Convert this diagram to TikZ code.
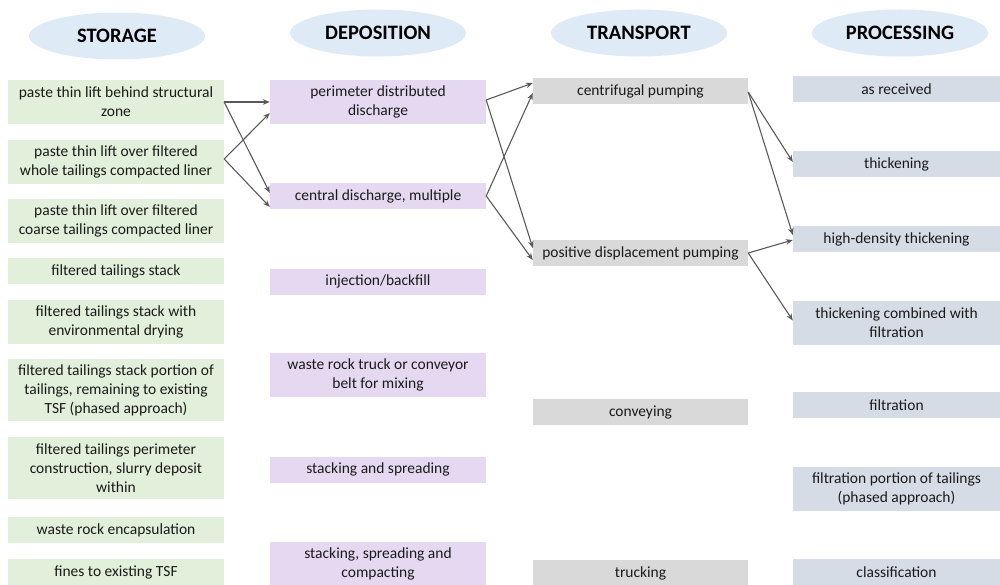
\documentclass[tikz,border=0pt]{standalone}
\usepackage{fontspec}
\setmainfont{Carlito}
\usetikzlibrary{arrows.meta,shapes.geometric}
\definecolor{storg}{HTML}{E2EFDA}
\definecolor{depc}{HTML}{E5D9F2}
\definecolor{trc}{HTML}{D9D9D9}
\definecolor{proc}{HTML}{D6DCE5}
\definecolor{hdr}{HTML}{DEEBF7}
\definecolor{arr}{HTML}{595959}
\definecolor{txt}{HTML}{1A1A1A}
\tikzset{
  box/.style={rectangle, inner sep=0pt, align=center, text=txt,
    font=\fontsize{15.5}{19}\selectfont},
  stor/.style={box, fill=storg, minimum width=216pt},
  depo/.style={box, fill=depc, minimum width=216pt},
  tran/.style={box, fill=trc, minimum width=215pt},
  proc/.style={box, fill=proc, minimum width=207pt},
  one/.style={minimum height=26pt},
  two/.style={minimum height=44pt},
  three/.style={minimum height=62pt},
  hdrnode/.style={ellipse, fill=hdr, minimum width=176pt, minimum height=47pt,
    inner sep=0pt, font=\fontsize{20.5}{22}\selectfont\bfseries, text=black},
  conn/.style={draw=arr, line width=1.1pt, -{Stealth[length=7pt,width=5.5pt]}}
}
\begin{document}
\begin{tikzpicture}[x=1pt,y=-1pt]
\useasboundingbox (0,0) rectangle (1000,585);
% headers
\node[hdrnode] (hS) at (117,36) {STORAGE};
\node[hdrnode] (hD) at (378,33) {DEPOSITION};
\node[hdrnode] (hT) at (639,33) {TRANSPORT};
\node[hdrnode] (hP) at (900,33) {PROCESSING};
% storage
\node[stor,two] (S1) at (116,102) {paste thin lift behind structural\\zone};
\node[stor,two] (S2) at (116,162) {paste thin lift over filtered\\whole tailings compacted liner};
\node[stor,two] (S3) at (116,221) {paste thin lift over filtered\\coarse tailings compacted liner};
\node[stor,one] (S4) at (116,271) {filtered tailings stack};
\node[stor,two] (S5) at (116,321.5) {filtered tailings stack with\\environmental drying};
\node[stor,three] (S6) at (116,390) {filtered tailings stack portion of\\tailings, remaining to existing\\TSF (phased approach)};
\node[stor,three] (S7) at (116,468) {filtered tailings perimeter\\construction, slurry deposit\\within};
\node[stor,one] (S8) at (116,530) {waste rock encapsulation};
\node[stor,one] (S9) at (116,572) {fines to existing TSF};
% deposition
\node[depo,two] (D1) at (378,102) {perimeter distributed\\discharge};
\node[depo,one] (D2) at (378,196) {central discharge, multiple};
\node[depo,one] (D3) at (378,281.5) {injection/backfill};
\node[depo,two] (D4) at (378,375) {waste rock truck or conveyor\\belt for mixing};
\node[depo,one] (D5) at (378,469.5) {stacking and spreading};
\node[depo,two] (D6) at (378,563.5) {stacking, spreading and\\compacting};
% transport
\node[tran,one] (T1) at (640.5,91) {centrifugal pumping};
\node[tran,one] (T2) at (640.5,253) {positive displacement pumping};
\node[tran,one] (T3) at (640.5,412) {conveying};
\node[tran,one] (T4) at (640.5,573) {trucking};
% processing
\node[proc,one] (P1) at (896.5,89) {as received};
\node[proc,one] (P2) at (896.5,164) {thickening};
\node[proc,one] (P3) at (896.5,239) {high-density thickening};
\node[proc,two] (P4) at (896.5,322.5) {thickening combined with\\filtration};
\node[proc,one] (P5) at (896.5,405) {filtration};
\node[proc,two] (P6) at (896.5,489) {filtration portion of tailings\\(phased approach)};
\node[proc,one] (P7) at (896.5,572) {classification};
% connectors storage -> deposition
\draw[conn] (S1.east) -- (D1.west);
\draw[conn] (S1.east) -- ([yshift=3pt]D2.west);
\draw[conn] ([yshift=3pt]S2.east) -- ([yshift=-11pt]D1.west);
\draw[conn] ([yshift=3pt]S2.east) -- ([yshift=-11pt]D2.west);
% deposition -> transport
\draw[conn] ([yshift=2pt]D1.east) -- ([yshift=8pt]T1.west);
\draw[conn] ([yshift=2pt]D1.east) -- ([yshift=5pt]T2.west);
\draw[conn] (D2.east) -- ([yshift=-2pt]T1.west);
\draw[conn] (D2.east) -- ([yshift=-7pt]T2.west);
% transport -> processing
\draw[conn] ([yshift=-1pt]T1.east) -- ([yshift=2pt]P2.west);
\draw[conn] ([yshift=-1pt]T1.east) -- ([yshift=4pt]P3.west);
\draw[conn] (T2.east) -- ([yshift=-1pt]P3.west);
\draw[conn] (T2.east) -- ([yshift=2pt]P4.west);
\end{tikzpicture}
\end{document}
